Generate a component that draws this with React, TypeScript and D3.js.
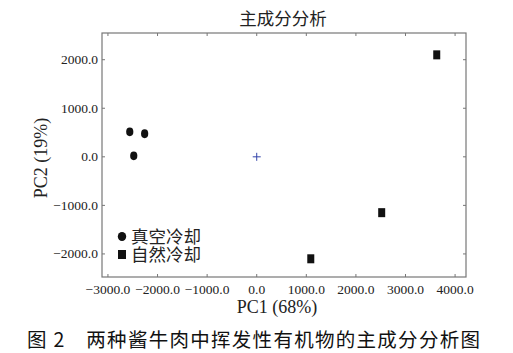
import React, { useRef, useEffect } from "react";
import * as d3 from "d3";

// PCA scores
const vacuumPC1 = [-2560, -2260, -2480];
const vacuumPC2 = [515, 475, 20];
const naturalPC1 = [3630, 2520, 1090];
const naturalPC2 = [2100, -1150, -2100];
const centerPoint = [0, 0];
const xTicks = [-3000, -2000, -1000, 0, 1000, 2000, 3000, 4000];
const yTicks = [-2000, -1000, 0, 1000, 2000];
const legendLabels = ["真空冷却", "自然冷却"];

const serif = "'Liberation Serif', 'DejaVu Serif', serif";
const cjk = "'Noto Sans CJK SC', sans-serif";

function PcaChart() {
  const svgRef = useRef<SVGSVGElement>(null);

  useEffect(() => {
    const svg = d3.select(svgRef.current);
    svg.selectAll("*").remove();

    const left = 102, right = 466, top = 33, bottom = 277;
    const x = d3.scaleLinear().domain([-3120, 4220]).range([left, right]);
    const y = d3.scaleLinear().domain([-2475, 2550]).range([bottom, top]);
    const fmt = (v: number) => d3.format(".1f")(v).replace("-", "\u2212");

    // frame
    svg.append("rect")
      .attr("x", left).attr("y", top)
      .attr("width", right - left).attr("height", bottom - top)
      .attr("fill", "white").attr("stroke", "#777").attr("stroke-width", 1.2);

    // inward ticks on all sides
    const tk = 3;
    xTicks.forEach((t) => {
      svg.append("line").attr("x1", x(t)).attr("x2", x(t)).attr("y1", bottom).attr("y2", bottom - tk).attr("stroke", "#777");
      svg.append("line").attr("x1", x(t)).attr("x2", x(t)).attr("y1", top).attr("y2", top + tk).attr("stroke", "#777");
      svg.append("text")
        .attr("x", x(t)).attr("y", bottom + 16.5)
        .attr("text-anchor", "middle")
        .style("font-family", serif).style("font-size", "13.5px").attr("fill", "#222")
        .text(fmt(t));
    });
    yTicks.forEach((t) => {
      svg.append("line").attr("x1", left).attr("x2", left + tk).attr("y1", y(t)).attr("y2", y(t)).attr("stroke", "#777");
      svg.append("line").attr("x1", right).attr("x2", right - tk).attr("y1", y(t)).attr("y2", y(t)).attr("stroke", "#777");
      svg.append("text")
        .attr("x", left - 4).attr("y", y(t) + 4.5)
        .attr("text-anchor", "end")
        .style("font-family", serif).style("font-size", "13.5px").attr("fill", "#222")
        .text(fmt(t));
    });

    // points
    vacuumPC1.forEach((v, i) => {
      svg.append("ellipse")
        .attr("cx", x(v)).attr("cy", y(vacuumPC2[i]))
        .attr("rx", 3.6).attr("ry", 4.4).attr("fill", "#111");
    });
    naturalPC1.forEach((v, i) => {
      svg.append("rect")
        .attr("x", x(v) - 3.5).attr("y", y(naturalPC2[i]) - 4.5)
        .attr("width", 7).attr("height", 9).attr("fill", "#111");
    });
    const cx = x(centerPoint[0]), cy = y(centerPoint[1]);
    svg.append("path")
      .attr("d", `M${cx - 4},${cy}H${cx + 4}M${cx},${cy - 4}V${cy + 4}`)
      .attr("stroke", "#3344aa").attr("stroke-width", 1);

    // legend: symbols + one text block with a line per entry
    svg.append("ellipse").attr("cx", 122).attr("cy", 236.5).attr("rx", 4.2).attr("ry", 4.6).attr("fill", "#111");
    svg.append("rect").attr("x", 118).attr("y", 250).attr("width", 8).attr("height", 9).attr("fill", "#111");
    const legendText = svg.append("text")
      .attr("x", 131).attr("y", 242.5)
      .style("font-family", cjk).style("font-size", "17.5px").attr("fill", "#222");
    legendLabels.forEach((l, i) => {
      legendText.append("tspan")
        .attr("x", 131).attr("y", 242.5 + i * 18.5)
        .text(l);
    });

    // titles
    svg.append("text")
      .attr("x", 283).attr("y", 24.5)
      .attr("text-anchor", "middle")
      .style("font-family", cjk).style("font-size", "17.5px").attr("fill", "#222")
      .text("主成分分析");
    svg.append("text")
      .attr("x", 277).attr("y", 313)
      .attr("text-anchor", "middle")
      .style("font-family", serif).style("font-size", "18px").attr("fill", "#222")
      .text("PC1 (68%)");
    svg.append("text")
      .attr("transform", `translate(47,158) rotate(-90)`)
      .attr("text-anchor", "middle")
      .style("font-family", serif).style("font-size", "18px").attr("fill", "#222")
      .text("PC2 (19%)");
    svg.append("text")
      .attr("x", 27).attr("textLength", 453).attr("y", 347)
      .style("font-family", cjk).style("font-size", "19.5px").attr("fill", "#111")
      .text("图 2\u3000两种酱牛肉中挥发性有机物的主成分分析图");
  }, []);

  return <svg ref={svgRef} width={513} height={353} style={{ display: "block" }} />;
}

export default function App() {
  return (
    <div style={{ position: "absolute", left: 0, top: 0 }}>
      <PcaChart />
    </div>
  );
}
